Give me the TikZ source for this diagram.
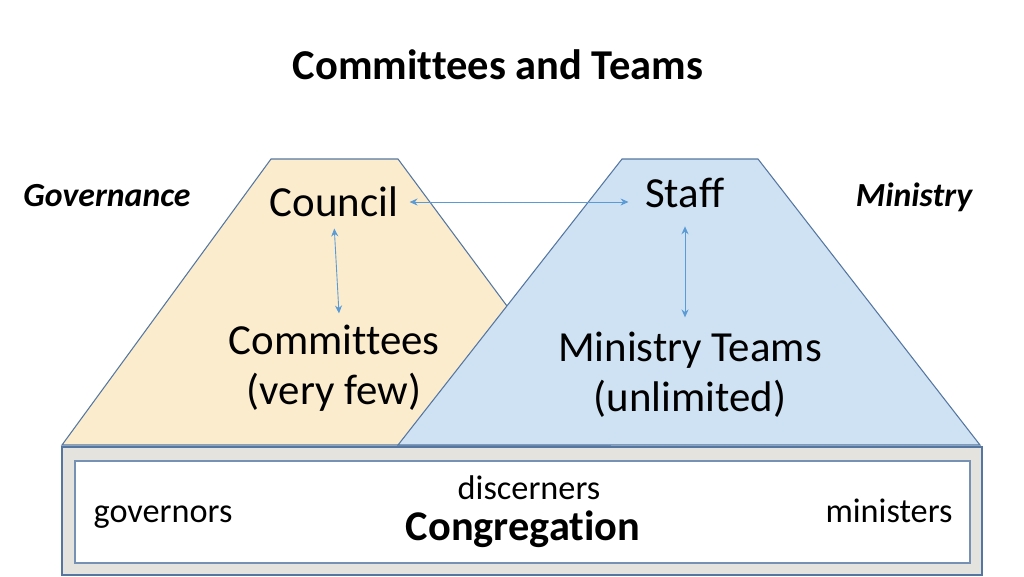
\documentclass[tikz,border=0pt]{standalone}
\usepackage{fontspec}
\setmainfont{Carlito}[Ligatures=NoCommon]
\usetikzlibrary{arrows.meta}
\definecolor{tanfill}{RGB}{251,236,206}
\definecolor{bluefill}{RGB}{207,226,243}
\definecolor{edgeblue}{RGB}{84,118,160}
\definecolor{arrowblue}{RGB}{91,155,213}
\definecolor{bandgrey}{RGB}{228,227,222}
\tikzset{
  link/.style={draw=arrowblue, line width=0.5pt, {Stealth[length=4.5pt,width=4pt]}-{Stealth[length=4.5pt,width=4pt]}},
  bigtext/.style={font=\fontsize{24.4}{28.4}\selectfont, align=center},
  bandtext/.style={font=\fontsize{19.5}{23}\selectfont, anchor=base},
  sidelabel/.style={font=\fontsize{19.2}{23}\selectfont\bfseries\itshape}
}
\begin{document}
\begin{tikzpicture}[x=0.02cm, y=-0.02cm]
  \useasboundingbox (0,0) rectangle (1024,576);
  % the two trapezoids
  \filldraw[fill=tanfill, draw=edgeblue, line width=0.6pt] (62,445) -- (271,159) -- (398,159) -- (610,445) -- cycle;
  \filldraw[fill=bluefill, draw=edgeblue, line width=0.6pt] (398,445) -- (622,159) -- (758,159) -- (980,445) -- cycle;
  % congregation band
  \filldraw[fill=bandgrey, draw=edgeblue, line width=0.6pt] (62,447) rectangle (982,575);
  \filldraw[fill=white, draw=edgeblue!80, line width=0.6pt] (75,461) rectangle (970,563);
  \node[font=\fontsize{24.2}{29}\selectfont\bfseries] (title) at (498,65) {Committees and Teams};
  \node[sidelabel] (governance) at (107,196) {Governance};
  \node[sidelabel] (ministry) at (914,197) {Ministry};
  \node[bigtext] (council) at (334,202) {Council};
  \node[bigtext] (staff) at (685,193) {Staff};
  \node[bigtext] (committees) at (334,368) {Committees\\(very few)};
  \node[bigtext] (teams) at (690,375) {Ministry Teams\\(unlimited)};
  \node[bandtext] (discerners) at (529,499) {discerners};
  \node[bandtext, font=\fontsize{24.1}{29}\selectfont\bfseries] (congregation) at (523,540) {Congregation};
  \node[bandtext] (governors) at (163,522) {governors};
  \node[bandtext] (ministers) at (889,522) {ministers};
  % arrows
  \draw[link, shorten <=3pt, shorten >=6pt] (council.east) -- (council.east -| staff.west);
  \draw[link, shorten <=3pt, shorten >=3pt] (council.south) -- ([xshift=3pt]council.south |- committees.north);
  \draw[link, shorten <=7pt, shorten >=5pt] (staff.south) -- (staff.south |- teams.north);
\end{tikzpicture}
\end{document}
